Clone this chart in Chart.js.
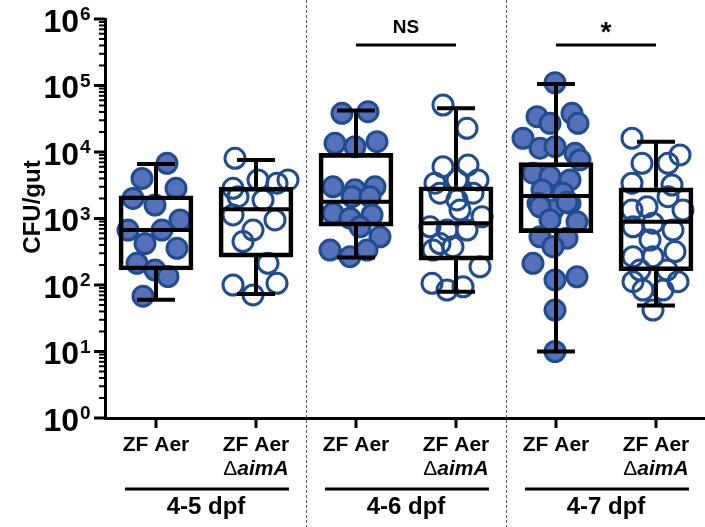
<!DOCTYPE html>
<html>
<head>
<meta charset="utf-8">
<script src="https://cdn.jsdelivr.net/npm/chart.js@4"></script>
<style>
html, body { margin: 0; padding: 0; background: #fff; overflow: hidden; }
#wrap { width: 705px; height: 527px; }
</style>
</head>
<body>
<div id="wrap"><canvas id="c"></canvas></div>
<script>
// categories, two per time window
const categories = ['ZF Aer', 'ZF Aer ΔaimA', 'ZF Aer', 'ZF Aer ΔaimA', 'ZF Aer', 'ZF Aer ΔaimA'];
const mutant = [false, true, false, true, false, true];
const groupLabels = ['4-5 dpf', '4-6 dpf', '4-7 dpf'];
const significance = ['', 'NS', '*'];
const yExponents = [0, 1, 2, 3, 4, 5, 6];

// box plot stats (CFU/gut)
const whiskerHigh = [6600, 7600, 41900, 45500, 105000, 14200];
const q3 = [2200, 2970, 9560, 3000, 6910, 2890];
const median = [670, 1380, 1790, 850, 2180, 890];
const q1 = [168, 263, 770, 237, 612, 164];
const whiskerLow = [60, 73, 260, 79, 10, 49];

// individual fish (CFU/gut) and their horizontal spread inside each column
const cfu1 = [6760, 4000, 2840, 2000, 1590, 950, 670, 670, 420, 356, 212, 168, 134, 68];
const jit1 = [0.11, -0.14, 0.20, -0.23, -0.01, 0.24, -0.28, 0.06, -0.11, 0.21, -0.19, -0.01, 0.12, -0.13];
const cfu2 = [8040, 3800, 3800, 2840, 3390, 1900, 2130, 1130, 950, 670, 450, 212, 100, 106, 71];
const jit2 = [-0.21, 0.02, 0.32, -0.23, 0.21, 0.07, -0.18, -0.23, 0.19, -0.03, -0.13, 0.12, -0.23, 0.21, -0.03];
const cfu3 = [38200, 40400, 13500, 12000, 14300, 3000, 2700, 3000, 2130, 2130, 1200, 1010, 1130, 750, 530, 335, 267, 335];
const jit3 = [-0.14, 0.12, -0.21, -0.01, 0.21, -0.23, -0.01, 0.19, -0.04, 0.14, -0.23, -0.06, 0.16, 0.04, 0.24, -0.26, -0.06, 0.11];
const cfu4 = [50900, 22700, 6000, 6360, 3390, 3800, 3800, 2400, 1900, 2400, 750, 670, 670, 1060, 335, 377, 188, 106, 84, 94, 1340, 420];
const jit4 = [-0.13, 0.11, -0.13, 0.12, -0.21, 0.01, 0.22, -0.16, 0.01, 0.17, -0.26, -0.09, 0.11, 0.26, -0.23, -0.03, 0.24, -0.24, -0.09, 0.07, 0.04, -0.16];
const cfu5 = [110000, 33900, 38200, 27000, 27000, 16100, 11400, 12000, 9560, 7600, 4800, 4270, 3800, 2690, 2400, 1690, 1340, 1690, 1500, 1750, 950, 890, 530, 505, 377, 212, 119, 133, 42, 10];
const jit5 = [-0.01, -0.19, 0.16, 0.22, -0.06, -0.33, -0.16, -0.01, 0.19, 0.24, -0.23, -0.06, 0.14, -0.14, 0.07, -0.18, -0.03, 0.14, -0.16, 0.11, -0.06, 0.21, -0.16, 0.11, -0.03, -0.23, -0.01, 0.21, -0.01, -0.01];
const cfu6 = [16100, 9020, 6760, 6760, 3390, 3190, 1500, 2130, 1340, 1340, 850, 750, 670, 475, 318, 267, 267, 168, 168, 112, 112, 84, 84, 42];
const jit6 = [-0.24, 0.24, -0.14, 0.12, -0.24, 0.16, -0.09, 0.12, -0.24, 0.27, -0.03, -0.23, 0.17, -0.06, 0.19, -0.23, -0.03, -0.16, 0.11, -0.23, 0.22, -0.13, 0.07, -0.03];

const cfuAll = [cfu1, cfu2, cfu3, cfu4, cfu5, cfu6];
const jitAll = [jit1, jit2, jit3, jit4, jit5, jit6];

const FONT = "'Liberation Sans', Arial, sans-serif";
const dotFill = 'rgb(84,113,185)';
const dotEdge = 'rgb(32,76,145)';

const datasets = [];

// boxes (q1..q3) as floating bars, drawn on top
datasets.push({
    type: 'bar',
    data: q1.map((v, i) => ({ x: i + 1, y: [v, q3[i]] })),
    backgroundColor: 'rgba(0,0,0,0)',
    borderColor: '#000',
    borderWidth: 4,
    borderSkipped: false,
    barThickness: 74,
    grouped: false,
    order: 0
});

cfuAll.forEach((vals, i) => {
    datasets.push({
        type: 'scatter',
        data: vals.map((v, k) => ({ x: i + 1 + jitAll[i][k], y: v })),
        pointRadius: 10,
        pointHoverRadius: 10,
        borderWidth: 3,
        backgroundColor: mutant[i] ? 'rgba(255,255,255,0)' : dotFill,
        borderColor: dotEdge,
        order: 2
    });
});

// whiskers, medians, axes decorations and all the annotation text
const boxExtras = {
    id: 'boxExtras',
    beforeDatasetsDraw(chart) {
        const { ctx, scales: { x } } = chart;
        ctx.save();
        ctx.strokeStyle = '#555';
        ctx.lineWidth = 1;
        ctx.setLineDash([3, 2]);
        [2.5, 4.5].forEach(v => {
            const px = Math.round(x.getPixelForValue(v)) + 0.5;
            ctx.beginPath();
            ctx.moveTo(px, 0);
            ctx.lineTo(px, 527);
            ctx.stroke();
        });
        ctx.restore();
    },
    afterDatasetsDraw(chart) {
        const { ctx, scales: { x, y } } = chart;
        ctx.save();
        ctx.strokeStyle = '#000';
        ctx.lineWidth = 4;
        ctx.lineCap = 'butt';
        categories.forEach((c, i) => {
            const cx = x.getPixelForValue(i + 1);
            const hw = 35, cw = 19;
            const yHi = y.getPixelForValue(whiskerHigh[i]);
            const yLo = y.getPixelForValue(whiskerLow[i]);
            const yQ3 = y.getPixelForValue(q3[i]);
            const yQ1 = y.getPixelForValue(q1[i]);
            const yMed = y.getPixelForValue(median[i]);
            ctx.beginPath();
            ctx.moveTo(cx, yQ3); ctx.lineTo(cx, yHi);
            ctx.moveTo(cx, yQ1); ctx.lineTo(cx, yLo);
            ctx.moveTo(cx - cw, yHi); ctx.lineTo(cx + cw, yHi);
            ctx.moveTo(cx - cw, yLo); ctx.lineTo(cx + cw, yLo);
            ctx.moveTo(cx - hw, yMed); ctx.lineTo(cx + hw, yMed);
            ctx.stroke();
        });
        ctx.restore();
    },
    afterDraw(chart) {
        const { ctx, scales: { x, y } } = chart;
        const axisX = chart.chartArea.left;
        const axisY = chart.chartArea.bottom;
        ctx.save();
        ctx.fillStyle = '#000';
        ctx.strokeStyle = '#000';

        // y ticks, major and minor
        for (let d = 0; d <= 6; d++) {
            const py = y.getPixelForValue(Math.pow(10, d));
            ctx.lineWidth = 3;
            ctx.beginPath(); ctx.moveTo(axisX - 11, py); ctx.lineTo(axisX, py); ctx.stroke();
            if (d < 6) {
                ctx.lineWidth = 2;
                for (let k = 2; k <= 9; k++) {
                    const pm = y.getPixelForValue(k * Math.pow(10, d));
                    ctx.beginPath(); ctx.moveTo(axisX - 6, pm); ctx.lineTo(axisX, pm); ctx.stroke();
                }
            }
        }
        // y tick labels 10^n
        yExponents.forEach(e => {
            const py = y.getPixelForValue(Math.pow(10, e));
            ctx.font = 'bold 32px ' + FONT;
            ctx.textAlign = 'right';
            ctx.textBaseline = 'middle';
            ctx.fillText('10', 79, py + 4);
            ctx.font = 'bold 19px ' + FONT;
            ctx.textAlign = 'left';
            ctx.textBaseline = 'alphabetic';
            ctx.fillText(String(e), 80, py + 1);
        });

        // y title
        ctx.save();
        ctx.translate(33, 207);
        ctx.rotate(-Math.PI / 2);
        ctx.font = 'bold 24px ' + FONT;
        ctx.textAlign = 'center';
        ctx.textBaseline = 'middle';
        ctx.fillText('CFU/gut', 0, 0);
        ctx.restore();

        // x ticks and category labels
        categories.forEach((c, i) => {
            const cx = x.getPixelForValue(i + 1);
            ctx.lineWidth = 3;
            ctx.beginPath(); ctx.moveTo(cx, axisY); ctx.lineTo(cx, axisY + 10); ctx.stroke();
            ctx.font = 'bold 21px ' + FONT;
            ctx.textAlign = 'center';
            ctx.textBaseline = 'middle';
            ctx.fillText('ZF Aer', cx, 445);
            if (mutant[i]) {
                ctx.font = '21px ' + FONT;
                const wD = ctx.measureText('Δ').width;
                ctx.font = 'italic bold 21px ' + FONT;
                const wA = ctx.measureText('aimA').width;
                const x0 = cx - (wD + wA) / 2;
                ctx.textAlign = 'left';
                ctx.font = '21px ' + FONT;
                ctx.fillText('Δ', x0, 469);
                ctx.font = 'italic bold 21px ' + FONT;
                ctx.fillText('aimA', x0 + wD, 469);
            }
        });

        // time window underlines and labels
        groupLabels.forEach((g, j) => {
            const a = x.getPixelForValue(2 * j + 1 - 0.31);
            const b = x.getPixelForValue(2 * j + 2 + 0.33);
            ctx.lineWidth = 3;
            ctx.beginPath(); ctx.moveTo(a, 489); ctx.lineTo(b, 489); ctx.stroke();
            const mid = x.getPixelForValue(2 * j + 1.5);
            ctx.font = 'bold 24px ' + FONT;
            ctx.textAlign = 'center';
            ctx.textBaseline = 'middle';
            ctx.fillText(g, mid, 507);
        });

        // significance brackets
        significance.forEach((s, j) => {
            if (!s) return;
            const a = x.getPixelForValue(2 * j + 1);
            const b = x.getPixelForValue(2 * j + 2);
            ctx.lineWidth = 3;
            ctx.beginPath(); ctx.moveTo(a, 45); ctx.lineTo(b, 45); ctx.stroke();
            ctx.textAlign = 'center';
            ctx.textBaseline = 'middle';
            if (s === '*') {
                ctx.font = 'bold 28px ' + FONT;
                ctx.fillText(s, (a + b) / 2, 33);
            } else {
                ctx.font = 'bold 19px ' + FONT;
                ctx.fillText(s, (a + b) / 2, 28);
            }
        });
        ctx.restore();
    }
};

new Chart(document.getElementById('c'), {
    type: 'bar',
    data: { datasets },
    options: {
        responsive: true,
        maintainAspectRatio: false,
        animation: false,
        layout: { autoPadding: false, padding: { top: 19, left: 0, right: 0, bottom: 0 } },
        plugins: { legend: { display: false }, tooltip: { enabled: false } },
        scales: {
            x: {
                type: 'linear',
                offset: false,
                min: 0.49,
                max: 6.49,
                grid: { display: false, drawTicks: false },
                ticks: { display: false },
                border: { display: true, color: '#000', width: 3 },
                afterFit: s => { s.height = 109; }
            },
            y: {
                type: 'logarithmic',
                min: 1,
                max: 1000000,
                grid: { display: false, drawTicks: false },
                ticks: { display: false },
                border: { display: true, color: '#000', width: 3 },
                afterFit: s => { s.width = 105; }
            }
        }
    },
    plugins: [boxExtras]
});
</script>
</body>
</html>
